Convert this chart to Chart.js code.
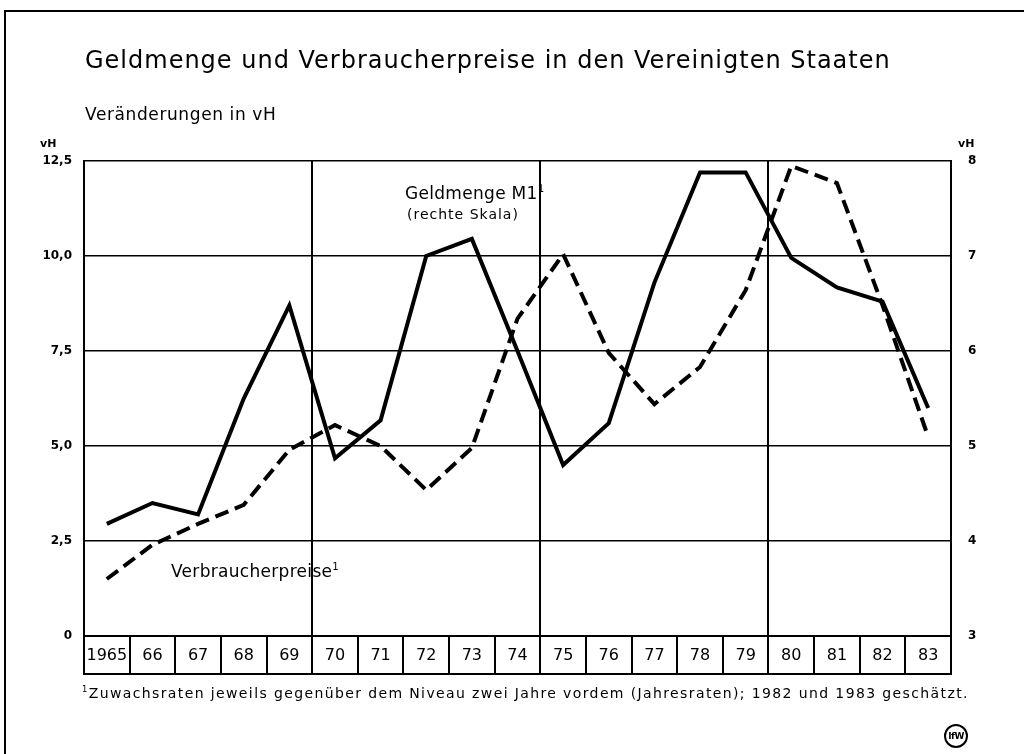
<!DOCTYPE html>
<html lang="de">
<head>
<meta charset="utf-8">
<script src="https://cdn.jsdelivr.net/npm/chart.js@4.4.0/dist/chart.umd.min.js"></script>
<style>
  html, body { margin: 0; padding: 0; background: #fff; }
  #wrap { position: relative; width: 1024px; height: 754px; overflow: hidden; font-family: "DejaVu Sans", sans-serif; color: #000; }
  #frame { position: absolute; left: 4px; top: 10px; width: 1030px; height: 760px; border-left: 2px solid #000; border-top: 2px solid #000; }
  canvas { position: absolute; left: 0; top: 0; }
  .txt { position: absolute; white-space: nowrap; line-height: 1; }
  sup { font-size: 0.6em; vertical-align: 0.7em; line-height: 0; }
  #logo { position: absolute; left: 944px; top: 724px; width: 20px; height: 20px; border: 2px solid #000; border-radius: 50%;
          font: bold 9px "DejaVu Sans", sans-serif; text-align: center; line-height: 20px; letter-spacing: -0.5px; }
</style>
</head>
<body>
<div id="wrap">
  <div id="frame"></div>
  <canvas id="chart" width="1024" height="754"></canvas>
  <div class="txt" style="left:85px; top:48px; font-size:24px; letter-spacing:1px;">Geldmenge und Verbraucherpreise in den Vereinigten Staaten</div>
  <div class="txt" style="left:85px; top:106px; font-size:17px; letter-spacing:0.6px;">Veränderungen in vH</div>
  <div class="txt" style="left:40px; top:138px; font-size:11px; font-weight:bold;">vH</div>
  <div class="txt" style="left:958px; top:138px; font-size:11px; font-weight:bold;">vH</div>
  <div class="txt" style="left:405px; top:185px; font-size:17px; letter-spacing:0.3px;">Geldmenge M1<sup>1</sup></div>
  <div class="txt" style="left:407px; top:207px; font-size:14px; letter-spacing:1px;">(rechte Skala)</div>
  <div class="txt" style="left:171px; top:563px; font-size:17px; letter-spacing:0.3px;">Verbraucherpreise<sup>1</sup></div>
  <div class="txt" style="left:82px; top:686px; font-size:14px; letter-spacing:1.38px;"><sup>1</sup>Zuwachsraten jeweils gegenüber dem Niveau zwei Jahre vordem (Jahresraten); 1982 und 1983 geschätzt.</div>
  <div id="logo">IfW</div>
</div>
<script>
// Jahre (Kategorien)
const years = ["1965", "66", "67", "68", "69", "70", "71", "72", "73", "74",
  "75", "76", "77", "78", "79", "80", "81", "82", "83"];

// Geldmenge M1, rechte Skala (vH)
const moneyM1 = [4.18, 4.40, 4.28, 5.50, 6.48, 4.87, 5.27, 7.00, 7.18, 6.00,
  4.80, 5.24, 6.72, 7.88, 7.88, 6.98, 6.67, 6.52, 5.40];

// Verbraucherpreise, linke Skala (vH)
const consumerPrices = [1.50, 2.40, 2.95, 3.45, 4.90, 5.55, 5.00, 3.84, 4.95, 8.35,
  10.05, 7.45, 6.10, 7.08, 9.10, 12.37, 11.92, 8.70, 5.24];

// Achsenbeschriftungen
const leftTickLabels = ["0", "2,5", "5,0", "7,5", "10,0", "12,5"];
const rightTickLabels = ["3", "4", "5", "6", "7", "8"];
const dividerIndexes = [5, 10, 15]; // senkrechte Linien 69/70, 74/75, 79/80

// Kästchen unter der Zeitachse
const yearBoxes = {
  id: "yearBoxes",
  afterDraw(chart) {
    const { ctx, chartArea } = chart;
    ctx.save();
    ctx.strokeStyle = "#000";
    ctx.lineWidth = 2;
    ctx.strokeRect(chartArea.left, chartArea.bottom, chartArea.right - chartArea.left, 38);
    ctx.restore();
  }
};

new Chart(document.getElementById("chart"), {
  type: "line",
  data: {
    labels: years,
    datasets: [
      {
        label: "Geldmenge M1",
        data: moneyM1,
        yAxisID: "yRight",
        borderColor: "#000",
        borderWidth: 4,
        pointRadius: 0,
        tension: 0
      },
      {
        label: "Verbraucherpreise",
        data: consumerPrices,
        yAxisID: "yLeft",
        borderColor: "#000",
        borderWidth: 4,
        borderDash: [14, 7],
        pointRadius: 0,
        tension: 0
      }
    ]
  },
  options: {
    responsive: false,
    animation: false,
    layout: { padding: { left: 24, right: 23, top: 161, bottom: 78 } },
    plugins: {
      legend: { display: false },
      tooltip: { enabled: false }
    },
    scales: {
      x: {
        offset: true,
        afterFit: (s) => { s.height = 40; },
        border: { display: true, color: "#000", width: 2 },
        grid: {
          offset: true,
          color: (c) => dividerIndexes.includes(c.index) ? "#000" : "rgba(0,0,0,0)",
          tickColor: "#000",
          lineWidth: 2,
          tickLength: 38
        },
        ticks: {
          color: "#000",
          padding: -28,
          maxRotation: 0,
          autoSkip: false,
          font: { family: "DejaVu Sans", size: 16 }
        }
      },
      yLeft: {
        position: "left",
        min: 0,
        max: 12.5,
        afterFit: (s) => { s.width = 60; },
        border: { display: true, color: "#000", width: 2 },
        grid: { color: "#000", lineWidth: 1.5, drawTicks: false },
        ticks: {
          stepSize: 2.5,
          padding: 12,
          color: "#000",
          font: { family: "DejaVu Sans", size: 12, weight: "bold" },
          callback: (v, i) => leftTickLabels[i]
        }
      },
      yRight: {
        position: "right",
        min: 3,
        max: 8,
        afterFit: (s) => { s.width = 50; },
        border: { display: true, color: "#000", width: 2 },
        grid: { drawOnChartArea: false, drawTicks: false },
        ticks: {
          stepSize: 1,
          padding: 17,
          color: "#000",
          font: { family: "DejaVu Sans", size: 12, weight: "bold" },
          callback: (v, i) => rightTickLabels[i]
        }
      }
    }
  },
  plugins: [yearBoxes]
});
</script>
</body>
</html>
